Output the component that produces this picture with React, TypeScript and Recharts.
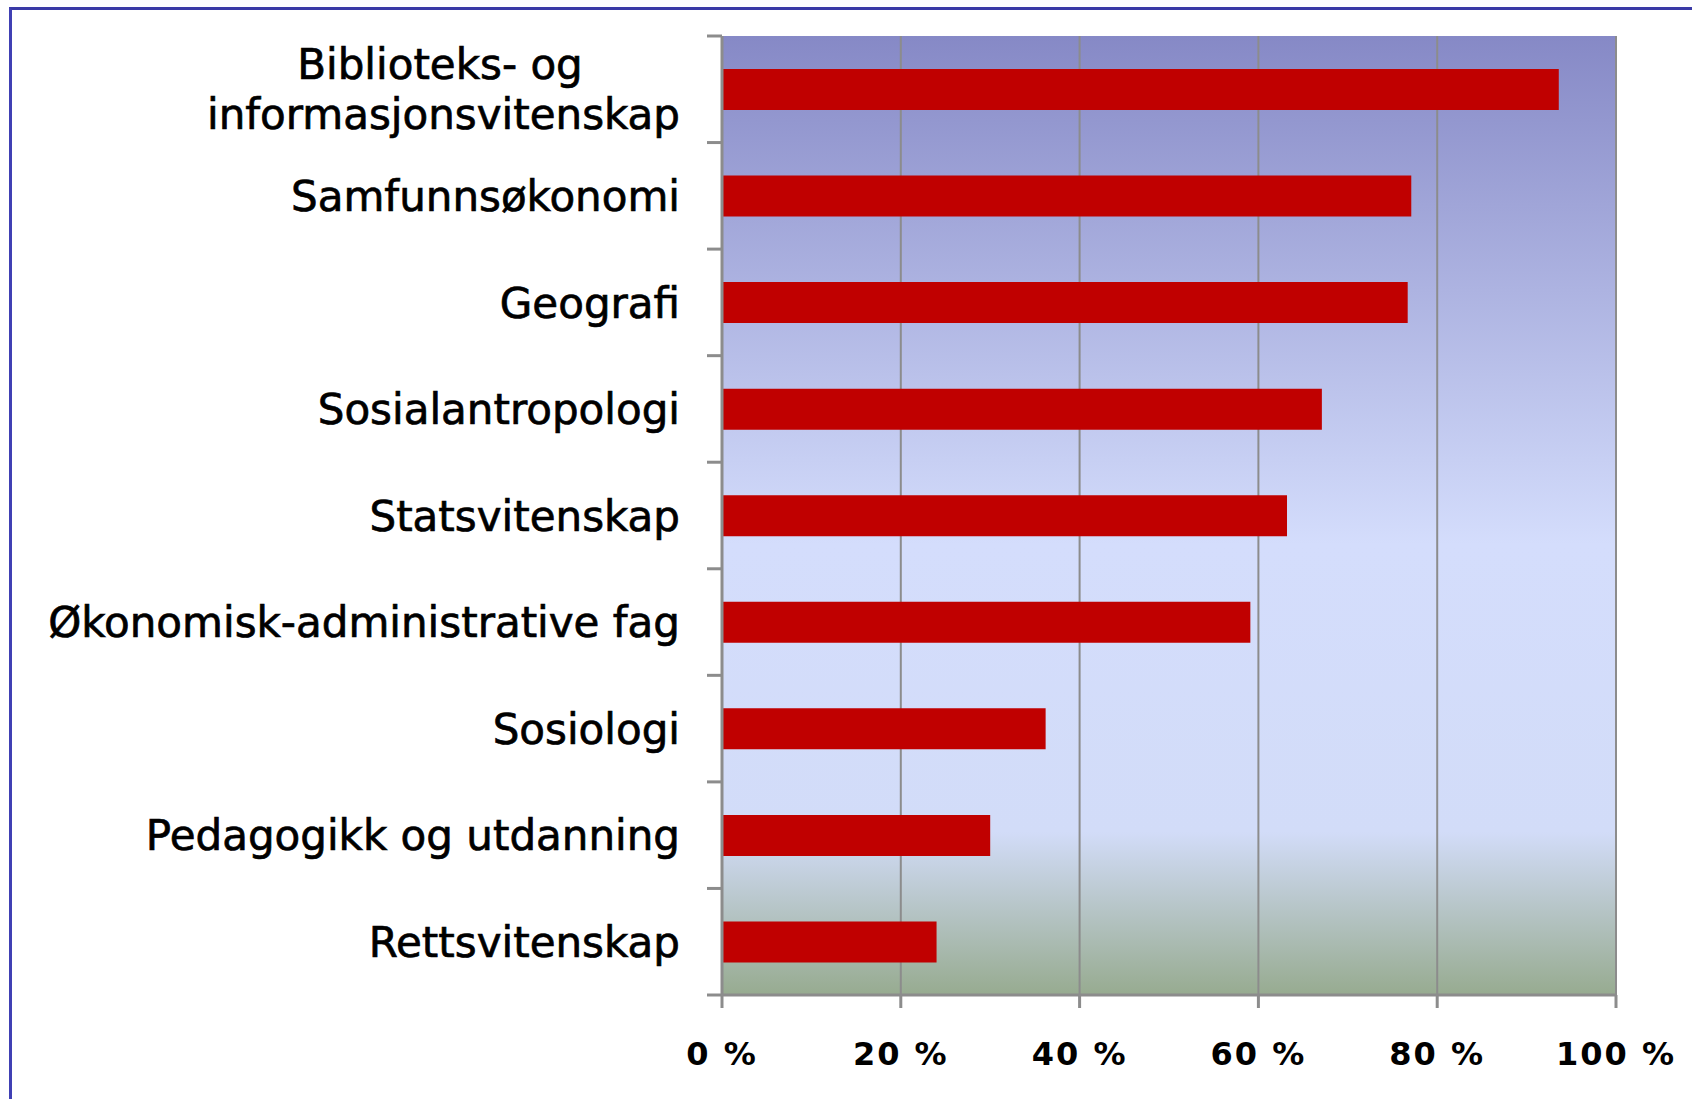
import React from "react";
import { BarChart, Bar, XAxis, YAxis, CartesianGrid } from "recharts";

const categories: string[] = [
  "Biblioteks- og\ninformasjonsvitenskap",
  "Samfunnsøkonomi",
  "Geografi",
  "Sosialantropologi",
  "Statsvitenskap",
  "Økonomisk-administrative fag",
  "Sosiologi",
  "Pedagogikk og utdanning",
  "Rettsvitenskap",
];

const shares: number[] = [0.936, 0.771, 0.767, 0.671, 0.632, 0.591, 0.362, 0.3, 0.24];

const xTicks: number[] = [0, 0.2, 0.4, 0.6, 0.8, 1];

const data = categories.map((name, i) => ({ name, value: shares[i] }));

const FONT = "'DejaVu Sans', Verdana, sans-serif";
const LABEL_SIZE = 42;

const CHART_W = 1692;
const CHART_H = 1099;
const MARGIN = { top: 36, right: 76, bottom: 0, left: 0 };
const XAXIS_H = 104;
const YAXIS_W = 722;
const TICK_MARGIN = 42;
const BAND = (CHART_H - MARGIN.top - MARGIN.bottom - XAXIS_H) / categories.length;
const AXIS_GREY = "#8c8c8c";

const CategoryTick = (props: any) => {
  const { x, y, payload, index } = props;
  const lines: string[] = String(payload.value).split("\n");
  const common = {
    fontFamily: FONT,
    fontSize: LABEL_SIZE,
    fill: "#000",
    stroke: "#000",
    strokeWidth: 0.7,
    dy: "0.36em",
  };
  const axisX = x + TICK_MARGIN;
  const marks = [y - BAND / 2];
  if (index === categories.length - 1) marks.push(y + BAND / 2);
  return (
    <g>
      {marks.map((my, k) => (
        <line key={k} x1={axisX - 15} x2={axisX} y1={my} y2={my} stroke={AXIS_GREY} strokeWidth={3} />
      ))}
      {lines.length === 1 ? (
        <text x={x} y={y} textAnchor="end" {...common}>
          {lines[0]}
        </text>
      ) : (
        <g>
          <text x={x - 240} y={y - 25} textAnchor="middle" {...common}>
            {lines[0]}
          </text>
          <text x={x} y={y + 25} textAnchor="end" {...common}>
            {lines[1]}
          </text>
        </g>
      )}
    </g>
  );
};

export default function App() {
  return (
    <div style={{ position: "absolute", left: 0, top: 0, width: CHART_W, height: CHART_H, background: "#fff", overflow: "hidden" }}>
      <svg width="0" height="0" style={{ position: "absolute" }}>
        <defs>
          <linearGradient id="plotBg" x1="0" y1="0" x2="0" y2="1">
            <stop offset="0%" stopColor="#8689C6" />
            <stop offset="53%" stopColor="#D4DDFC" />
            <stop offset="83%" stopColor="#D2DCF8" />
            <stop offset="100%" stopColor="#97AB90" />
          </linearGradient>
        </defs>
      </svg>
      <div
        style={{
          position: "absolute",
          left: 9,
          top: 7,
          width: 1700,
          height: 1110,
          borderTop: "3px solid #3a3aa6",
          borderLeft: "3px solid #4040b4",
          boxSizing: "border-box",
        }}
      />
      <div style={{ position: "absolute", left: 0, top: 0 }}>
        <BarChart
          width={CHART_W}
          height={CHART_H}
          data={data}
          layout="vertical"
          margin={MARGIN}
          barSize={41}
        >
          <CartesianGrid
            horizontal={false}
            vertical={true}
            stroke={AXIS_GREY}
            strokeWidth={2}
            fill="url(#plotBg)"
            fillOpacity={1}
          />
          <XAxis
            type="number"
            dataKey="value"
            domain={[0, 1]}
            ticks={xTicks}
            tickFormatter={(v: number) => `${Math.round(v * 100)} %`}
            height={XAXIS_H}
            tickSize={13}
            tickMargin={34}
            axisLine={{ stroke: AXIS_GREY, strokeWidth: 3 }}
            tickLine={{ stroke: AXIS_GREY, strokeWidth: 3 }}
            tick={{ fill: "#000", fontFamily: FONT, fontWeight: "bold", fontSize: 32, letterSpacing: 2 }}
            interval={0}
          />
          <YAxis
            type="category"
            dataKey="name"
            width={YAXIS_W}
            axisLine={{ stroke: AXIS_GREY, strokeWidth: 3 }}
            tickLine={false}
            tickSize={0}
            tickMargin={TICK_MARGIN}
            tick={<CategoryTick />}
            interval={0}
          />
          <Bar dataKey="value" fill="#C00000" isAnimationActive={false} />
        </BarChart>
      </div>
    </div>
  );
}
